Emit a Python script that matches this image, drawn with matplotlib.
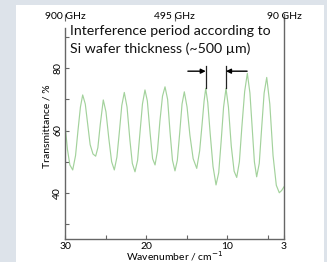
import matplotlib.pyplot as plt
from matplotlib.patches import Rectangle

# transmittance curve (wavenumber in cm-1, transmittance in %)
wavenumber = [30.0, 29.7, 29.4, 29.05, 28.7, 28.4, 28.1, 27.82, 27.5, 27.2, 26.9, 26.55, 26.22,
              25.95, 25.65, 25.28, 24.95, 24.6, 24.25, 23.92, 23.6, 23.3, 23.0, 22.69, 22.35,
              22.0, 21.7, 21.37, 21.05, 20.75, 20.45, 20.14, 19.85, 19.5, 19.2, 18.9, 18.6,
              18.3, 17.98, 17.67, 17.35, 17.05, 16.75, 16.44, 16.15, 15.85, 15.57, 15.29,
              14.95, 14.6, 14.2, 13.76, 13.4, 13.1, 12.85, 12.65, 12.4, 12.1, 11.75, 11.38,
              11.05, 10.75, 10.45, 10.15, 9.85, 9.5, 9.15, 8.83, 8.5, 8.2, 7.85, 7.52,
              7.2, 6.9, 6.65, 6.37, 6.05, 5.75, 5.45, 5.13, 4.75, 4.35, 3.95, 3.58, 3.3, 3.0]
transmittance = [62.0, 54.0, 49.0, 47.4, 52.0, 60.0, 67.5, 71.4, 68.5, 62.0, 55.5, 52.5, 51.8,
                 54.5, 62.0, 69.8, 66.0, 57.5, 50.0, 47.4, 51.5, 59.5, 68.0, 72.2, 67.5,
                 57.0, 49.5, 46.8, 50.5, 59.5, 68.5, 73.0, 69.5, 59.0, 51.0, 49.0, 53.5,
                 63.0, 71.0, 74.0, 70.0, 59.5, 50.5, 47.1, 50.5, 59.5, 68.5, 72.4,
                 67.5, 58.5, 51.0, 47.9, 53.5, 62.0, 69.5, 73.5, 69.0, 59.0, 48.5, 42.6,
                 46.5, 56.5, 67.5, 73.5, 67.5, 55.0, 47.0, 45.0, 50.0, 61.0, 72.5, 78.3,
                 72.0, 60.0, 50.0, 45.2, 49.5, 61.0, 72.0, 77.0, 68.5, 52.0, 42.5, 40.1, 40.8, 42.0]

bottom_ticks = [30, 20, 10, 3]
bottom_minor = [25, 15, 5]
y_ticks = [40, 60, 80]
y_minor = [30, 50, 70, 90]
top_ghz = [900, 495, 90]
top_labels = ["900 GHz", "495 GHz", "90 GHz"]

# interference period markers
period_peaks = [12.65, 10.15]
period_peak_vals = [73.5, 73.5]
arrow_tails = [14.85, 7.55]
arrow_y = 79.0
marker_top = 80.6

bg = '#dde3ea'
green = '#a3d29c'
spine = '#666666'

fig = plt.figure(figsize=(3.27, 2.62), dpi=100, facecolor=bg)
fig.patches.append(Rectangle((16 / 327, 0), 308 / 327, 257 / 262, transform=fig.transFigure,
                             facecolor='white', edgecolor='none', zorder=-5))
ax = fig.add_axes([65 / 327, 23 / 262, 219 / 327, 225 / 262])
ax.set_facecolor('none')

ax.plot(wavenumber, transmittance, color=green, lw=0.85)

for px, pv, tail in zip(period_peaks, period_peak_vals, arrow_tails):
    ax.plot([px, px], [pv, marker_top], color='#222222', lw=0.9)
    ax.annotate('', xy=(px, arrow_y), xytext=(tail, arrow_y),
                arrowprops=dict(arrowstyle='-|>', color='black', lw=1.0,
                                mutation_scale=7, shrinkA=0, shrinkB=0))

ax.set_xlim(30, 3)
ax.set_ylim(25.3, 97.3)

font = 'Lato'
ax.set_xticks(bottom_ticks)
ax.set_xticklabels([str(t) for t in bottom_ticks], fontsize=7.5, family=font)
ax.set_xticks(bottom_minor, minor=True)
ax.set_yticks(y_ticks)
ax.set_yticklabels([str(t) for t in y_ticks], fontsize=7.5, family=font, rotation=90, va='center')
ax.set_yticks(y_minor, minor=True)
ax.tick_params(which='both', direction='in', color=spine, length=3, width=0.8, pad=2)

for s in ['left', 'right', 'bottom']:
    ax.spines[s].set_color(spine)
    ax.spines[s].set_linewidth(1.0)
ax.spines['top'].set_visible(False)
ax.spines['left'].set_bounds(25.3, 92.8)

# top frequency axis (GHz -> cm-1)
top = ax.secondary_xaxis('top', functions=(lambda w: w * 30.0, lambda g: g / 30.0))
top.spines['top'].set_visible(False)
top.set_xticks(top_ghz)
top.set_xticklabels([])
top.tick_params(direction='in', color=spine, length=5, width=0.8)
for g, lab in zip(top_ghz, top_labels):
    ax.text(g / 30.0, 0.99, lab, transform=ax.get_xaxis_transform(), ha='center', va='center',
            fontsize=7.5, family=font)

ax.set_xlabel('Wavenumber / cm$^{-1}$', fontsize=7.5, family=font, labelpad=-1)
ax.set_ylabel('Transmittance / %', fontsize=7.5, family=font, labelpad=1)

ax.text(0.022, 0.95, 'Interference period according to\nSi wafer thickness (~500 µm)',
        transform=ax.transAxes, ha='left', va='top', fontsize=10.2, family=font,
        linespacing=1.45, color='#111111')

fig.savefig('out.png', dpi=100, facecolor=bg)
